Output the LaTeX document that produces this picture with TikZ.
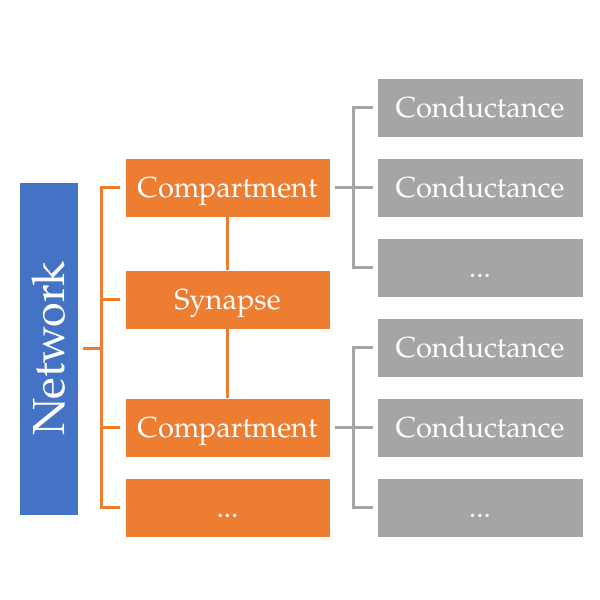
\documentclass[tikz,border=0pt]{standalone}
\usepackage{fontspec}
\setmainfont{TeX Gyre Pagella}
\definecolor{cblue}{HTML}{4472C4}
\definecolor{corange}{HTML}{ED7D31}
\definecolor{cgrey}{HTML}{A5A5A5}
\tikzset{
  box/.style={rectangle, draw=white, line width=0.4pt, text=white, inner sep=0pt,
    font=\fontsize{29}{33}\selectfont, text height=19pt, text depth=0pt},
  obox/.style={box, fill=corange, minimum width=205pt, minimum height=59pt},
  gbox/.style={box, fill=cgrey, minimum width=206pt, minimum height=59pt},
  nbox/.style={box, fill=cblue, minimum width=333pt, minimum height=59pt, rotate=90,
    font=\fontsize{45}{49}\selectfont, text height=30pt},
  obr/.style={draw=corange, line width=3pt, line join=miter},
  gbr/.style={draw=cgrey, line width=3pt, line join=miter}
}
\begin{document}
\begin{tikzpicture}[x=1pt,y=-1pt]
\useasboundingbox (0,0) rectangle (600,600);
\node[nbox] (net) at (49,348.5) {Network};
\node[obox] (c1) at (227.5,187.5) {Compartment};
\node[obox] (syn) at (227.5,299.5) {Synapse};
\node[obox] (c2) at (227.5,427.5) {Compartment};
\node[obox] (od) at (227.5,507.5) {...};
\node[gbox] (g1) at (480,107.5) {Conductance};
\node[gbox] (g2) at (480,187.5) {Conductance};
\node[gbox] (g3) at (480,267.5) {...};
\node[gbox] (g4) at (480,347.5) {Conductance};
\node[gbox] (g5) at (480,427.5) {Conductance};
\node[gbox] (g6) at (480,507.5) {...};
% orange bracket
\coordinate (ob) at (101.5,348.5);
\draw[obr] ([xshift=4.5pt]net.south) -- (ob);
\draw[obr] ([xshift=-5pt]c1.west) -| (ob) |- ([xshift=-5pt]od.west);
\draw[obr] (ob |- syn.west) -- ([xshift=-5pt]syn.west);
\draw[obr] (ob |- c2.west) -- ([xshift=-5pt]c2.west);
\draw[obr] (c1.south) -- (syn.north);
\draw[obr] (syn.south) -- (c2.north);
% grey brackets
\coordinate (gb1) at (353.5,187.5);
\draw[gbr] ([xshift=5pt]c1.east) -- (gb1);
\draw[gbr] ([xshift=-4pt]g1.west) -| (gb1) |- ([xshift=-4pt]g3.west);
\draw[gbr] (gb1) -- ([xshift=-4pt]g2.west);
\coordinate (gb2) at (353.5,427.5);
\draw[gbr] ([xshift=5pt]c2.east) -- (gb2);
\draw[gbr] ([xshift=-4pt]g4.west) -| (gb2) |- ([xshift=-4pt]g6.west);
\draw[gbr] (gb2) -- ([xshift=-4pt]g5.west);
\end{tikzpicture}
\end{document}
